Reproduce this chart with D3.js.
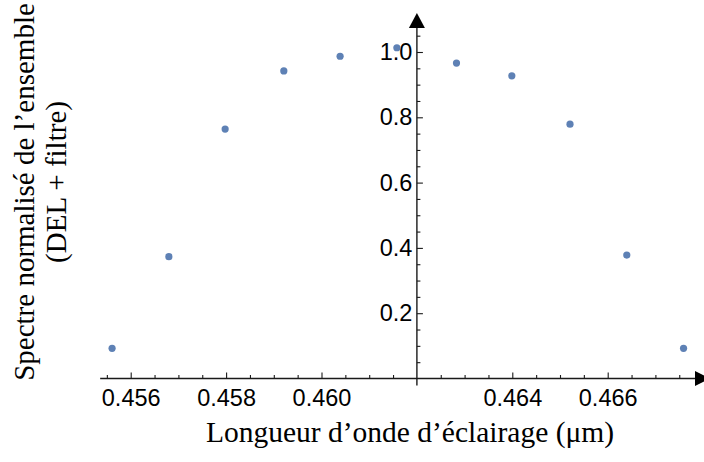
<!DOCTYPE html>
<html>
<head>
<meta charset="utf-8">
<script src="https://cdn.jsdelivr.net/npm/d3@7"></script>
<style>
  html, body { margin: 0; padding: 0; background: #fff; }
  svg { display: block; }
</style>
</head>
<body>
<svg id="chart" width="704" height="462"></svg>
<script>
// ---- data ----
const wavelengths = [0.45561, 0.45680, 0.45798, 0.45921, 0.46039, 0.46158, 0.46283, 0.46399, 0.46521, 0.46640, 0.46759];
const spectrum    = [0.0925, 0.373, 0.764, 0.942, 0.987, 1.013, 0.966, 0.927, 0.779, 0.378, 0.0925];
const xMajorTicks = [0.456, 0.458, 0.460, 0.464, 0.466];
const xTickLabels = ["0.456", "0.458", "0.460", "0.464", "0.466"];
const yMajorTicks = [0.2, 0.4, 0.6, 0.8, 1.0];
const yTickLabels = ["0.2", "0.4", "0.6", "0.8", "1.0"];
const xTitle = "Longueur d\u2019onde d\u2019\u00e9clairage (\u03bcm)";
const yTitleLines = ["Spectre normalis\u00e9 de l\u2019ensemble", "(DEL + filtre)"];

// ---- layout ----
const svg = d3.select("#chart");
svg.append("rect").attr("width", 704).attr("height", 462).attr("fill", "#fff");

const x = d3.scaleLinear().domain([0.456, 0.466]).range([130.7, 607.7]);
const y = d3.scaleLinear().domain([0, 1]).range([378.5, 52]);
const originX = x(0.462), originY = y(0);
const axisColor = "#1a1a1a";

const xMinor = d3.range(0, 25).map(i => +(0.4555 + i * 0.0005).toFixed(4))
  .filter(v => !xMajorTicks.some(m => Math.abs(m - v) < 1e-7) && Math.abs(v - 0.462) > 1e-7);
const yMinor = d3.range(1, 22).map(i => +(i * 0.05).toFixed(2))
  .filter(v => !yMajorTicks.some(m => Math.abs(m - v) < 1e-7));

// x axis line + arrow
svg.append("line").attr("x1", x(0.45536)).attr("x2", 697).attr("y1", originY).attr("y2", originY)
  .attr("stroke", axisColor).attr("stroke-width", 1.4);
svg.append("path").attr("d", `M${695},${originY - 7.5} L${710},${originY} L${695},${originY + 7.5} Z`)
  .attr("fill", "#000");
// y axis line + arrow
svg.append("line").attr("x1", originX).attr("x2", originX).attr("y1", originY + 7).attr("y2", 26)
  .attr("stroke", axisColor).attr("stroke-width", 1.4);
svg.append("path").attr("d", `M${originX - 8},${28} L${originX},${13} L${originX + 8},${28} Z`)
  .attr("fill", "#000");

const tickFont = "'Liberation Sans', Arial, Helvetica, sans-serif";

// x ticks
const gx = svg.append("g").attr("transform", `translate(0,${originY})`);
gx.call(d3.axisBottom(x).tickValues(xMajorTicks).tickSize(-6).tickPadding(11)
  .tickFormat((d, i) => xTickLabels[i]));
const gxm = svg.append("g").attr("transform", `translate(0,${originY})`);
gxm.call(d3.axisBottom(x).tickValues(xMinor).tickSize(-3.5).tickFormat(""));

// y ticks
const gy = svg.append("g").attr("transform", `translate(${originX},0)`);
gy.call(d3.axisLeft(y).tickValues(yMajorTicks).tickSize(-6).tickPadding(4.5)
  .tickFormat((d, i) => yTickLabels[i]));
const gym = svg.append("g").attr("transform", `translate(${originX},0)`);
gym.call(d3.axisLeft(y).tickValues(yMinor).tickSize(-3.5).tickFormat(""));

svg.selectAll(".domain").remove();
svg.selectAll(".tick line").attr("stroke", axisColor).attr("stroke-width", 1.1);
svg.selectAll(".tick text").attr("fill", "#000").style("font-family", tickFont).style("font-size", "23.5px");

// points
svg.append("g").selectAll("circle").data(wavelengths).join("circle")
  .attr("cx", d => x(d)).attr("cy", (d, i) => y(spectrum[i])).attr("r", 3.6)
  .attr("fill", "#5E81B5");

// titles
const serif = "'Liberation Serif', 'Times New Roman', Times, serif";
svg.append("text").attr("x", 410).attr("y", 442).attr("text-anchor", "middle")
  .style("font-family", serif).style("font-size", "29.5px").attr("fill", "#000").text(xTitle);

const yt = svg.append("g").attr("transform", "rotate(-90)");
yt.append("text").attr("x", -192).attr("y", 34).attr("text-anchor", "middle")
  .style("font-family", serif).style("font-size", "29px").attr("fill", "#000").text(yTitleLines[0]);
yt.append("text").attr("x", -182).attr("y", 66).attr("text-anchor", "middle")
  .style("font-family", serif).style("font-size", "29px").attr("fill", "#000").text(yTitleLines[1]);
</script>
</body>
</html>
